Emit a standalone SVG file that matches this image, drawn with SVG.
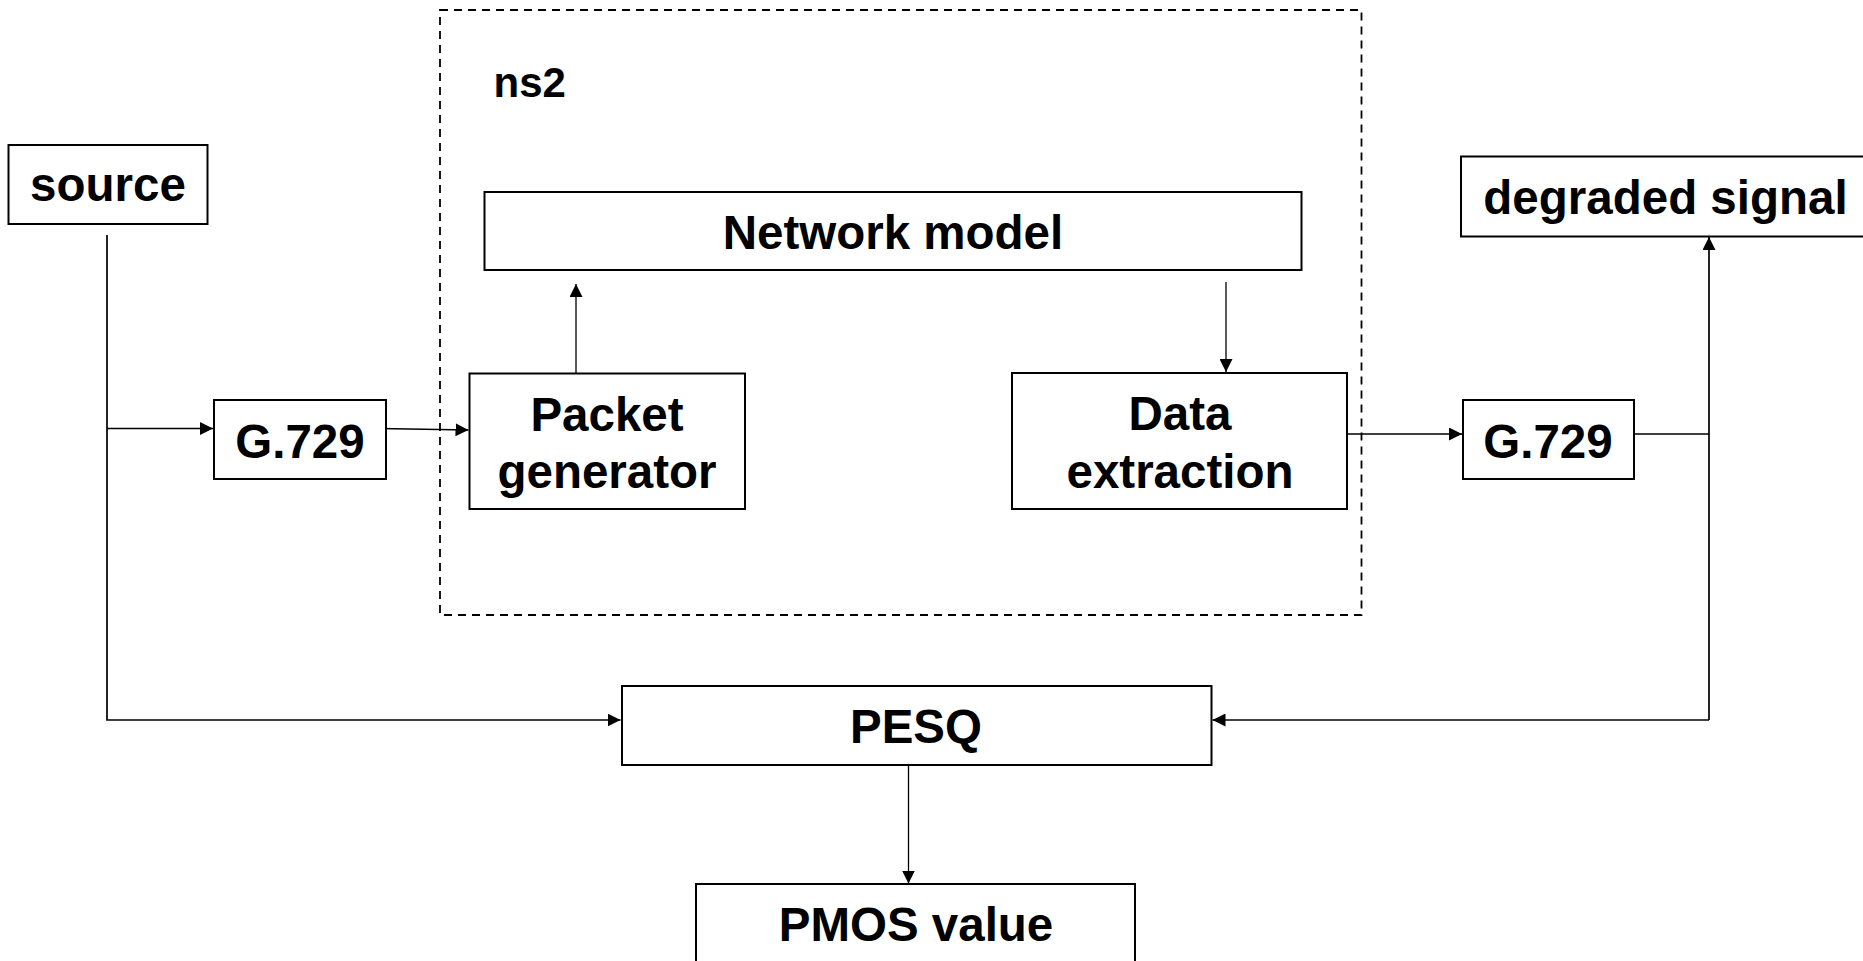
<svg xmlns="http://www.w3.org/2000/svg" width="1863" height="961" viewBox="0 0 1863 961">
<defs>
<style>
.box{fill:#fff;stroke:#000;stroke-width:2}
.lbl{font-family:"Liberation Sans",Arial,sans-serif;font-weight:bold;font-size:47.5px;fill:#000;text-anchor:middle}
.ns{font-family:"Liberation Sans",Arial,sans-serif;font-weight:bold;font-size:42px;fill:#000}
.con{fill:none;stroke:#000;stroke-width:1.7}
.thin{fill:none;stroke:#000;stroke-width:1.3}
.dash{fill:none;stroke:#000;stroke-width:1.8;stroke-dasharray:8 6}
</style>
<marker id="arr" markerWidth="14" markerHeight="13" refX="13" refY="6.5" orient="auto" markerUnits="userSpaceOnUse">
<path d="M0,0 L13,6.5 L0,13 Z" fill="#000"/>
</marker>
</defs>
<rect width="1863" height="961" fill="#fff"/>
<g id="ns2">
<rect class="dash" x="440" y="10" width="921.5" height="605"/>
<text class="ns" x="493.5" y="97">ns2</text>
</g>
<g id="connectors">
<polyline class="con" points="107,235 107,720 620.5,720" marker-end="url(#arr)"/>
<line class="con" x1="107" y1="428.5" x2="213" y2="428.5" marker-end="url(#arr)"/>
<line class="thin" x1="379" y1="428.5" x2="468.5" y2="430" marker-end="url(#arr)"/>
<line class="thin" x1="576" y1="373" x2="576" y2="284" marker-end="url(#arr)"/>
<line class="thin" x1="1226" y1="282" x2="1226" y2="372" marker-end="url(#arr)"/>
<line class="thin" x1="1347" y1="434" x2="1462" y2="434" marker-end="url(#arr)"/>
<line class="con" x1="1634" y1="434" x2="1709" y2="434"/>
<line class="con" x1="1709" y1="720" x2="1709" y2="237" marker-end="url(#arr)"/>
<line class="con" x1="1709" y1="720" x2="1212.5" y2="720" marker-end="url(#arr)"/>
<line class="thin" x1="908.5" y1="763" x2="908.5" y2="883.5" marker-end="url(#arr)"/>
</g>
<g id="source">
<rect class="box" x="8.5" y="145" width="199" height="79"/>
<text class="lbl" x="108" y="201">source</text>
</g>
<g id="g729-in">
<rect class="box" x="214" y="400" width="172" height="79"/>
<text class="lbl" x="300" y="458">G.729</text>
</g>
<g id="network-model">
<rect class="box" x="484.5" y="192" width="817" height="78"/>
<text class="lbl" x="893" y="249">Network model</text>
</g>
<g id="packet-generator">
<rect class="box" x="469.5" y="373.5" width="275.5" height="135.5"/>
<text class="lbl" x="607" y="431">Packet</text>
<text class="lbl" x="607" y="488">generator</text>
</g>
<g id="data-extraction">
<rect class="box" x="1012" y="373" width="335" height="136"/>
<text class="lbl" x="1180" y="430">Data</text>
<text class="lbl" x="1180" y="488">extraction</text>
</g>
<g id="g729-out">
<rect class="box" x="1463" y="400" width="171" height="79"/>
<text class="lbl" x="1548" y="458">G.729</text>
</g>
<g id="degraded-signal">
<rect class="box" x="1461" y="156.5" width="410" height="80"/>
<text class="lbl" x="1665.5" y="214">degraded signal</text>
</g>
<g id="pesq">
<rect class="box" x="622" y="686" width="589.5" height="79"/>
<text class="lbl" x="916" y="743">PESQ</text>
</g>
<g id="pmos">
<rect class="box" x="696" y="884" width="439" height="100"/>
<text class="lbl" x="916" y="941">PMOS value</text>
</g>
</svg>
